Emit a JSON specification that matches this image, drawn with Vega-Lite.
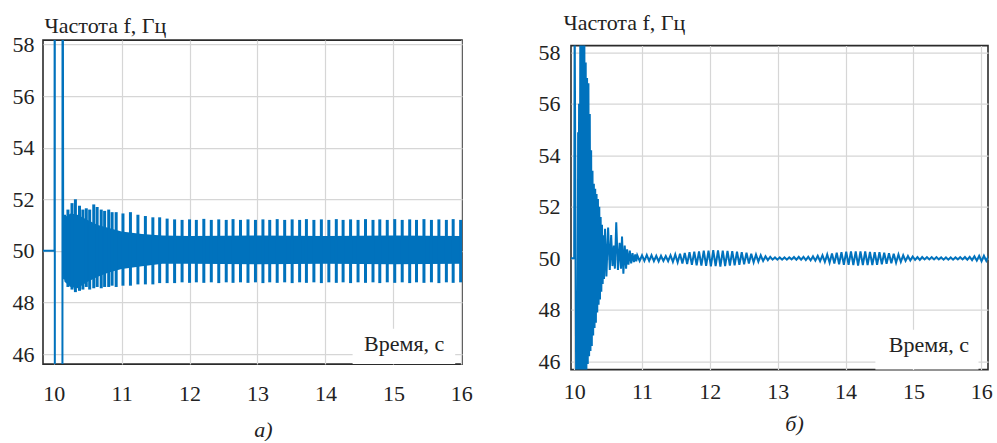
{
"$schema": "https://vega.github.io/schema/vega-lite/v6.json",
"padding": {"left": 11, "top": 10, "right": 5, "bottom": 0},
"background": "white",
"config": {
  "font": "Liberation Serif",
  "view": {"stroke": "#2b2b2b", "strokeWidth": 1.6},
  "text": {"font": "Liberation Serif"},
  "axis": {"labelFont": "Liberation Serif", "titleFont": "Liberation Serif", "labelFontSize": 22, "labelColor": "#222222", "grid": true, "gridColor": "#d6d6d6", "gridWidth": 1.2, "ticks": false, "domain": false, "titleFontSize": 22, "titleFontWeight": "normal", "titleColor": "#222222", "labelFlush": false, "format": "d"}
},
"spacing": 63,
"center": true,
"hconcat": [
{
  "width": 419, "height": 324,
  "layer": [
    {"data": {"values": [
      {"t":10.135,"f":49.2,"f2":50.9},{"t":10.16,"f":48.8,"f2":51.3},{"t":10.25,"f":48.6,"f2":51.45},{"t":10.35,"f":48.55,"f2":51.4},{"t":10.5,"f":48.8,"f2":51.2},{"t":10.65,"f":49.0,"f2":51.0},{"t":10.8,"f":49.15,"f2":50.9},{"t":11.0,"f":49.3,"f2":50.75},{"t":11.3,"f":49.4,"f2":50.65},{"t":11.6,"f":49.5,"f2":50.6},{"t":12.0,"f":49.5,"f2":50.58},{"t":13.0,"f":49.48,"f2":50.6},{"t":14.0,"f":49.5,"f2":50.58},{"t":15.0,"f":49.48,"f2":50.6},{"t":16.0,"f":49.5,"f2":50.58}
    ]}, "mark": {"type": "area", "color": "#0072BD", "clip": true},
    "encoding": {
      "x": {"field": "t", "type": "quantitative", "scale": {"domain": [9.843, 16.01], "nice": false, "zero": false}, "axis": {"values": [10,11,12,13,14,15,16], "format": "d", "title": "а)", "titleFontStyle": "italic", "labelPadding": 19, "titlePadding": 15, "titleX": 220}},
      "y": {"field": "f", "type": "quantitative", "scale": {"domain": [45.61, 58.17], "nice": false, "zero": false}, "axis": {"values": [46,48,50,52,54,56,58], "format": "d", "title": "Частота f, Гц", "titleAngle": 0, "titleAlign": "left", "titleBaseline": "alphabetic", "titleX": 1, "titleY": -7.5, "labelPadding": 9}},
      "y2": {"field": "f2"}}},
    {"data": {"values": [
      {"t":10.16,"f":48.9,"f2":51.4},{"t":10.21,"f":48.6,"f2":51.6},{"t":10.27,"f":48.5,"f2":51.85},{"t":10.32,"f":48.4,"f2":52.0},{"t":10.38,"f":48.45,"f2":51.75},{"t":10.43,"f":48.5,"f2":51.6},{"t":10.48,"f":48.6,"f2":51.65},{"t":10.53,"f":48.5,"f2":51.6},{"t":10.59,"f":48.55,"f2":51.8},{"t":10.64,"f":48.6,"f2":51.7},{"t":10.70,"f":48.55,"f2":51.6},{"t":10.75,"f":48.6,"f2":51.55},{"t":10.81,"f":48.6,"f2":51.6},{"t":10.86,"f":48.65,"f2":51.5},{"t":10.92,"f":48.6,"f2":51.5},{"t":11.02,"f":48.65,"f2":51.45},{"t":11.13,"f":48.65,"f2":51.5},{"t":11.24,"f":48.7,"f2":51.4},{"t":11.35,"f":48.7,"f2":51.35},{"t":11.46,"f":48.7,"f2":51.3},{"t":11.56,"f":48.75,"f2":51.3},{"t":11.67,"f":48.75,"f2":51.25},{"t":11.78,"f":48.75,"f2":51.22},{"t":11.89,"f":48.78,"f2":51.2},{"t":12.00,"f":48.76,"f2":51.22},{"t":12.10,"f":48.78,"f2":51.2},{"t":12.21,"f":48.76,"f2":51.24},{"t":12.32,"f":48.78,"f2":51.2},{"t":12.43,"f":48.75,"f2":51.22},{"t":12.54,"f":48.78,"f2":51.2},{"t":12.64,"f":48.76,"f2":51.23},{"t":12.75,"f":48.78,"f2":51.2},{"t":12.86,"f":48.76,"f2":51.22},{"t":12.97,"f":48.78,"f2":51.2},{"t":13.08,"f":48.75,"f2":51.22},{"t":13.18,"f":48.78,"f2":51.2},{"t":13.29,"f":48.76,"f2":51.23},{"t":13.40,"f":48.78,"f2":51.2},{"t":13.51,"f":48.75,"f2":51.22},{"t":13.62,"f":48.78,"f2":51.2},{"t":13.72,"f":48.76,"f2":51.23},{"t":13.83,"f":48.78,"f2":51.2},{"t":13.94,"f":48.75,"f2":51.22},{"t":14.05,"f":48.78,"f2":51.2},{"t":14.16,"f":48.76,"f2":51.23},{"t":14.26,"f":48.78,"f2":51.2},{"t":14.37,"f":48.75,"f2":51.22},{"t":14.48,"f":48.78,"f2":51.2},{"t":14.59,"f":48.76,"f2":51.23},{"t":14.70,"f":48.78,"f2":51.2},{"t":14.80,"f":48.75,"f2":51.22},{"t":14.91,"f":48.78,"f2":51.2},{"t":15.02,"f":48.76,"f2":51.23},{"t":15.13,"f":48.78,"f2":51.2},{"t":15.24,"f":48.75,"f2":51.22},{"t":15.34,"f":48.78,"f2":51.2},{"t":15.45,"f":48.76,"f2":51.23},{"t":15.56,"f":48.78,"f2":51.2},{"t":15.67,"f":48.75,"f2":51.22},{"t":15.78,"f":48.78,"f2":51.2},{"t":15.88,"f":48.76,"f2":51.23},{"t":15.99,"f":48.78,"f2":51.2}
    ]}, "mark": {"type": "rule", "color": "#0072BD", "strokeWidth": 3, "clip": true},
    "encoding": {"x": {"field": "t", "type": "quantitative"}, "y": {"field": "f", "type": "quantitative"}, "y2": {"field": "f2"}}},
    {"data": {"values": [
      {"t":9.8,"f":50},{"t":10.013,"f":50},{"t":10.016,"f":70},{"t":10.018,"f":30},{"t":10.128,"f":30},{"t":10.131,"f":70},{"t":10.14,"f":50.9}
    ]}, "mark": {"type": "line", "color": "#0072BD", "strokeWidth": 2, "clip": true},
    "encoding": {"x": {"field": "t", "type": "quantitative"}, "y": {"field": "f", "type": "quantitative"}}},
    {"data": {"values": [{"label": "Время, с"}]}, "mark": {"type": "rect", "color": "white", "opacity": 1},
    "encoding": {"x": {"datum": 14.4, "type": "quantitative"}, "x2": {"datum": 15.91}, "y": {"datum": 45.61, "type": "quantitative"}, "y2": {"datum": 46.98}}},
    {"data": {"values": [{"label": "Время, с"}]}, "mark": {"type": "text", "fontSize": 22, "baseline": "alphabetic", "align": "center", "color": "#222222"},
    "encoding": {"x": {"datum": 15.16, "type": "quantitative"}, "y": {"datum": 46.13, "type": "quantitative"}, "text": {"field": "label"}}}
  ]
},
{
  "width": 417, "height": 324,
  "layer": [
    {"data": {"values": [
      {"t":9.9,"f":50},{"t":10.0,"f":50},{"t":10.007,"f":59.5},{"t":10.03,"f":44.5},{"t":10.05,"f":44.5},{"t":10.058,"f":54.9},{"t":10.065,"f":48},{"t":10.072,"f":56},
      {"t":10.08,"f":45},{"t":10.09,"f":59},{"t":10.10,"f":45},{"t":10.11,"f":59},{"t":10.12,"f":45},{"t":10.13,"f":59},{"t":10.14,"f":45},{"t":10.15,"f":58.6},{"t":10.16,"f":45.3},{"t":10.17,"f":57.6},{"t":10.18,"f":45.6},{"t":10.19,"f":57.0},{"t":10.20,"f":45.9},{"t":10.21,"f":56.8},{"t":10.22,"f":46.2},{"t":10.23,"f":55.6},{"t":10.24,"f":46.4},{"t":10.25,"f":54.2},{"t":10.26,"f":46.6},{"t":10.27,"f":53.4},{"t":10.28,"f":47.0},{"t":10.29,"f":52.9},{"t":10.30,"f":47.3},{"t":10.31,"f":52.7},{"t":10.32,"f":47.5},{"t":10.33,"f":52.5},{"t":10.34,"f":47.9},{"t":10.35,"f":52.3},{"t":10.36,"f":48.2},{"t":10.37,"f":52.0},{"t":10.38,"f":48.4},{"t":10.39,"f":51.6},{"t":10.40,"f":48.7},{"t":10.41,"f":51.3},{"t":10.42,"f":49.0},{"t":10.43,"f":50.9},{"t":10.44,"f":49.2},{"t":10.455,"f":51.15},{"t":10.475,"f":49.3},{"t":10.50,"f":51.2},{"t":10.525,"f":49.55},{"t":10.545,"f":50.9},{"t":10.565,"f":49.7},{"t":10.585,"f":50.5},{"t":10.60,"f":49.6},{"t":10.62,"f":51.4},{"t":10.645,"f":49.55},{"t":10.67,"f":50.6},{"t":10.69,"f":49.6},{"t":10.705,"f":50.85},{"t":10.725,"f":49.4},{"t":10.745,"f":50.5},{"t":10.765,"f":49.6},{"t":10.78,"f":50.35},{"t":10.80,"f":49.75},{"t":10.82,"f":50.3},{"t":10.84,"f":49.8},{"t":10.86,"f":50.2},{"t":10.88,"f":49.85},{"t":10.90,"f":50.15},{"t":10.915,"f":49.88},
      {"t":10.930,"f":50.12},{"t":10.965,"f":49.90},{"t":11.000,"f":50.12},{"t":11.035,"f":49.90},{"t":11.070,"f":50.13},{"t":11.105,"f":49.90},{"t":11.140,"f":50.12},{"t":11.175,"f":49.89},{"t":11.210,"f":50.10},{"t":11.245,"f":49.88},{"t":11.280,"f":50.10},{"t":11.315,"f":49.90},{"t":11.350,"f":50.09},{"t":11.385,"f":49.89},{"t":11.420,"f":50.12},{"t":11.455,"f":49.86},{"t":11.490,"f":50.15},{"t":11.525,"f":49.84},{"t":11.560,"f":50.18},{"t":11.595,"f":49.80},{"t":11.630,"f":50.21},{"t":11.665,"f":49.78},{"t":11.700,"f":50.24},{"t":11.735,"f":49.75},{"t":11.770,"f":50.26},{"t":11.805,"f":49.73},{"t":11.840,"f":50.27},{"t":11.875,"f":49.72},{"t":11.910,"f":50.30},{"t":11.945,"f":49.71},{"t":11.980,"f":50.30},{"t":12.015,"f":49.69},{"t":12.050,"f":50.32},{"t":12.085,"f":49.70},{"t":12.120,"f":50.31},{"t":12.155,"f":49.68},{"t":12.190,"f":50.30},{"t":12.225,"f":49.70},{"t":12.260,"f":50.29},{"t":12.295,"f":49.72},{"t":12.330,"f":50.28},{"t":12.365,"f":49.73},{"t":12.400,"f":50.26},{"t":12.435,"f":49.75},{"t":12.470,"f":50.24},{"t":12.505,"f":49.77},{"t":12.540,"f":50.22},{"t":12.575,"f":49.80},{"t":12.610,"f":50.18},{"t":12.645,"f":49.84},{"t":12.680,"f":50.15},{"t":12.715,"f":49.87},{"t":12.750,"f":50.12},{"t":12.785,"f":49.90},{"t":12.820,"f":50.08},{"t":12.855,"f":49.93},{"t":12.890,"f":50.06},{"t":12.925,"f":49.95},{"t":12.960,"f":50.04},{"t":12.995,"f":49.95},{"t":13.030,"f":50.04},{"t":13.065,"f":49.95},{"t":13.100,"f":50.04},{"t":13.135,"f":49.95},{"t":13.170,"f":50.04},{"t":13.205,"f":49.96},{"t":13.240,"f":50.05},{"t":13.275,"f":49.95},{"t":13.310,"f":50.06},{"t":13.345,"f":49.95},{"t":13.380,"f":50.06},{"t":13.415,"f":49.93},{"t":13.450,"f":50.06},{"t":13.485,"f":49.92},{"t":13.520,"f":50.08},{"t":13.555,"f":49.91},{"t":13.590,"f":50.10},{"t":13.625,"f":49.89},{"t":13.660,"f":50.12},{"t":13.695,"f":49.86},{"t":13.730,"f":50.15},{"t":13.765,"f":49.83},{"t":13.800,"f":50.19},{"t":13.835,"f":49.80},{"t":13.870,"f":50.22},{"t":13.905,"f":49.77},{"t":13.940,"f":50.24},{"t":13.975,"f":49.75},{"t":14.010,"f":50.26},{"t":14.045,"f":49.75},{"t":14.080,"f":50.27},{"t":14.115,"f":49.74},{"t":14.150,"f":50.27},{"t":14.185,"f":49.72},{"t":14.220,"f":50.27},{"t":14.255,"f":49.74},{"t":14.290,"f":50.27},{"t":14.325,"f":49.74},{"t":14.360,"f":50.25},{"t":14.395,"f":49.74},{"t":14.430,"f":50.24},{"t":14.465,"f":49.75},{"t":14.500,"f":50.24},{"t":14.535,"f":49.77},{"t":14.570,"f":50.22},{"t":14.605,"f":49.79},{"t":14.640,"f":50.20},{"t":14.675,"f":49.81},{"t":14.710,"f":50.18},{"t":14.745,"f":49.83},{"t":14.780,"f":50.15},{"t":14.815,"f":49.86},{"t":14.850,"f":50.12},{"t":14.885,"f":49.90},{"t":14.920,"f":50.09},{"t":14.955,"f":49.92},{"t":14.990,"f":50.07},{"t":15.025,"f":49.94},{"t":15.060,"f":50.05},{"t":15.095,"f":49.94},{"t":15.130,"f":50.05},{"t":15.165,"f":49.96},{"t":15.200,"f":50.05},{"t":15.235,"f":49.96},{"t":15.270,"f":50.05},{"t":15.305,"f":49.96},{"t":15.340,"f":50.05},{"t":15.375,"f":49.96},{"t":15.410,"f":50.04},{"t":15.445,"f":49.95},{"t":15.480,"f":50.04},{"t":15.515,"f":49.95},{"t":15.550,"f":50.04},{"t":15.585,"f":49.95},{"t":15.620,"f":50.04},{"t":15.655,"f":49.96},{"t":15.690,"f":50.05},{"t":15.725,"f":49.96},{"t":15.760,"f":50.05},{"t":15.795,"f":49.95},{"t":15.830,"f":50.06},{"t":15.865,"f":49.93},{"t":15.900,"f":50.08},{"t":15.935,"f":49.91},{"t":15.970,"f":50.10},{"t":16.005,"f":49.89},{"t":16.040,"f":50.10},{"t":16.075,"f":49.90},{"t":16.110,"f":50.10}
    ]}, "mark": {"type": "line", "color": "#0072BD", "strokeWidth": 2, "clip": true},
    "encoding": {
      "x": {"field": "t", "type": "quantitative", "scale": {"domain": [9.953, 16.10], "nice": false, "zero": false}, "axis": {"values": [10,11,12,13,14,15,16], "format": "d", "title": "б)", "titleFontStyle": "italic", "labelPadding": 12, "titlePadding": 11, "titleX": 223}},
      "y": {"field": "f", "type": "quantitative", "scale": {"domain": [45.68, 58.26], "nice": false, "zero": false}, "axis": {"values": [46,48,50,52,54,56,58], "format": "d", "title": "Частота f, Гц", "titleAngle": 0, "titleAlign": "left", "titleBaseline": "alphabetic", "titleX": -8, "titleY": -16, "labelPadding": 11}}}},
    {"data": {"values": [{"label": "Время, с"}]}, "mark": {"type": "rect", "color": "white", "opacity": 1},
    "encoding": {"x": {"datum": 14.44, "type": "quantitative"}, "x2": {"datum": 15.96}, "y": {"datum": 45.68, "type": "quantitative"}, "y2": {"datum": 47.23}}},
    {"data": {"values": [{"label": "Время, с"}]}, "mark": {"type": "text", "fontSize": 22, "baseline": "alphabetic", "align": "center", "color": "#222222"},
    "encoding": {"x": {"datum": 15.23, "type": "quantitative"}, "y": {"datum": 46.38, "type": "quantitative"}, "text": {"field": "label"}}}
  ]
}
]
}
